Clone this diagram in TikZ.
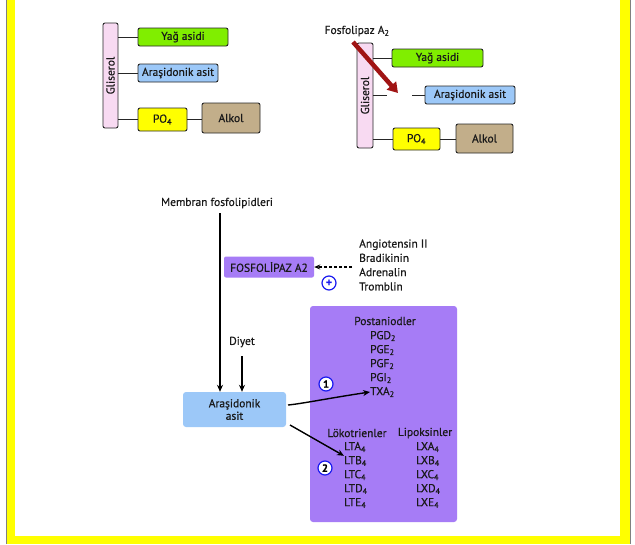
\documentclass[tikz,border=0pt]{standalone}
\usepackage{fontspec}
\setmainfont{PT Sans}[FakeBold=0.5]
\usetikzlibrary{arrows.meta}
\definecolor{ygreen}{HTML}{80EE00}
\definecolor{lblue}{HTML}{9CC8F8}
\definecolor{tan}{HTML}{C2AE8A}
\definecolor{pinkg}{HTML}{F8DAF2}
\definecolor{purp}{HTML}{A67CF6}
\definecolor{cblue}{HTML}{1A1AF0}
\definecolor{darkred}{HTML}{A01414}
\definecolor{frameyel}{HTML}{FFFF00}
\begin{document}
\begin{tikzpicture}[x=1pt,y=-1pt,
  font=\fontsize{11.5}{13}\selectfont,
  tbox/.style={draw=black!85, line width=0.9pt, rounded corners=2pt, inner sep=0pt, text=black!90},
  glis/.style={tbox, fill=pinkg},
  conn/.style={draw=black!85, line width=1pt},
  plain/.style={inner sep=0pt, text=black!90},
  lbl/.style={inner sep=0pt, anchor=west, text=black!90},
  numc/.style={circle, draw=cblue, line width=1.2pt, fill=white, inner sep=0pt, minimum size=14pt, text=black, font=\fontsize{10.5}{12}\selectfont\bfseries},
  arr/.style={draw=black, line width=1.4pt, -{Stealth[length=7pt,width=6pt]}}
]
\useasboundingbox (0,0) rectangle (635,544);
\fill[white] (0,0) rectangle (635,544);
% frame
\fill[frameyel] (7,0) rectangle (15,544);
\fill[frameyel] (620,0) rectangle (630,544);
\fill[frameyel] (7,536) rectangle (630,544);
\draw[gray, line width=1.3pt] (6.3,0) -- (6.3,544);
\draw[gray, line width=1.3pt] (630.5,0) -- (630.5,544);

% ---------- top left ----------
\node[glis, minimum width=15pt, minimum height=105pt] (gl1) at (110.5,75.5) {};
\node[rotate=90, plain] at (gl1) {Gliserol};
\node[tbox, fill=ygreen, minimum width=90pt, minimum height=18pt] (ya1) at (183,37) {Yağ asidi};
\node[tbox, fill=lblue, minimum width=80pt, minimum height=18pt] (ar1) at (178,73) {Araşidonik asit};
\node[tbox, fill=frameyel, minimum width=49pt, minimum height=23pt] (po1) at (162.5,119.5) {PO\textsubscript{4}};
\node[tbox, fill=tan, minimum width=58pt, minimum height=30pt] (al1) at (231,118) {Alkol};
\draw[conn] (gl1.east |- ya1.west) -- (ya1.west);
\draw[conn] (gl1.east |- ar1.west) -- (ar1.west);
\draw[conn] (gl1.east |- po1.west) -- (po1.west);
\draw[conn] (po1.east) -- (po1.east -| al1.west);

% ---------- top right ----------
\node[glis, minimum width=16pt, minimum height=105pt] (gl2) at (365,95.5) {};
\node[rotate=90, plain] at (gl2) {Gliserol};
\node[tbox, fill=ygreen, minimum width=91pt, minimum height=18pt] (ya2) at (437.5,58) {Yağ asidi};
\node[tbox, fill=lblue, minimum width=90pt, minimum height=18pt] (ar2) at (470,95) {Araşidonik asit};
\node[tbox, fill=frameyel, minimum width=47pt, minimum height=22pt] (po2) at (416.5,139) {PO\textsubscript{4}};
\node[tbox, fill=tan, minimum width=57pt, minimum height=29pt] (al2) at (484.5,138.5) {Alkol};
\draw[conn] (gl2.east |- ya2.west) -- (ya2.west);
\coordinate (brk1) at (387,95);
\coordinate (brk2) at (412,95);
\draw[conn] (gl2.east |- brk1) -- (brk1);
\draw[conn] (brk2) -- (ar2.west);
\draw[conn] (gl2.east |- po2.west) -- (po2.west);
\draw[conn] (po2.east) -- (po2.east -| al2.west);
\node[plain] (fos) at (357,31) {Fosfolipaz A\textsubscript{2}};
\coordinate (cut) at (398,93);
\draw[darkred, line width=4.5pt, -{Triangle[length=10pt,width=12pt]}] (353,42) -- (cut);

% ---------- bottom ----------
\node[plain] (memb) at (217,203) {Membran fosfolipidleri};
\node[inner sep=0pt, fill=purp, rounded corners=2pt, minimum width=90pt, minimum height=21pt, text=black!90] (fla2) at (269,267) {FOSFOLİPAZ A2};
\node[plain, anchor=west, align=left, font=\fontsize{11.5}{14.3}\selectfont] (agents) at (359,265)
  {Angiotensin II\\Bradikinin\\Adrenalin\\Tromblin};
\coordinate (dstart) at (352,267);
\draw[draw=black, line width=1.1pt, dashed, dash pattern=on 3pt off 2pt, -{Stealth[length=6pt,width=5pt]}] (dstart) -- (fla2.east);
\node[numc, minimum size=14pt, font=\fontsize{12}{12}\selectfont\bfseries, text=cblue] (plus) at (329,283) {+};

\node[inner sep=0pt, fill=lblue, rounded corners=3pt, minimum width=103pt, minimum height=35pt, align=center, text=black!90, font=\fontsize{11.5}{12.5}\selectfont] (ar3) at (234.5,409.5) {Araşidonik\\asit};
\coordinate (m1) at (220,213);
\draw[arr] (m1) -- (m1 |- ar3.north);
\node[plain] (diyet) at (242,342) {Diyet};
\coordinate (d1) at (242,356);
\draw[arr] (d1) -- (d1 |- ar3.north);

\node[inner sep=0pt, fill=purp, rounded corners=3pt, minimum width=147pt, minimum height=216pt] (big) at (383.5,414) {};
\node[plain] (post) at (385,321) {Postaniodler};
\node[lbl] (pgd) at (370,336) {PGD\textsubscript{2}};
\node[lbl] (pge) at (370,350) {PGE\textsubscript{2}};
\node[lbl] (pgf) at (370,364) {PGF\textsubscript{2}};
\node[lbl] (pgi) at (370,378) {PGI\textsubscript{2}};
\node[lbl] (txa) at (370,392) {TXA\textsubscript{2}};

\node[plain] (lok) at (357,433) {Lökotrienler};
\node[plain] (lip) at (425,433) {Lipoksinler};
\node[lbl] (lta) at (344,447) {LTA\textsubscript{4}};
\node[lbl] (ltb) at (344,461) {LTB\textsubscript{4}};
\node[lbl] (ltc) at (344,475) {LTC\textsubscript{4}};
\node[lbl] (ltd) at (344,489) {LTD\textsubscript{4}};
\node[lbl] (lte) at (344,503) {LTE\textsubscript{4}};
\node[lbl] (lxa) at (416,447) {LXA\textsubscript{4}};
\node[lbl] (lxb) at (416,461) {LXB\textsubscript{4}};
\node[lbl] (lxc) at (416,475) {LXC\textsubscript{4}};
\node[lbl] (lxd) at (416,489) {LXD\textsubscript{4}};
\node[lbl] (lxe) at (416,503) {LXE\textsubscript{4}};

\node[numc] (n1) at (326,384) {1};
\node[numc] (n2) at (325,468) {2};

\coordinate (a1) at (288,405);
\draw[arr] (a1) .. controls (300,404) and (330,398) .. (txa.west);
\coordinate (a2) at (290,425);
\draw[arr] (a2) -- (ltb.north west);
\end{tikzpicture}
\end{document}
